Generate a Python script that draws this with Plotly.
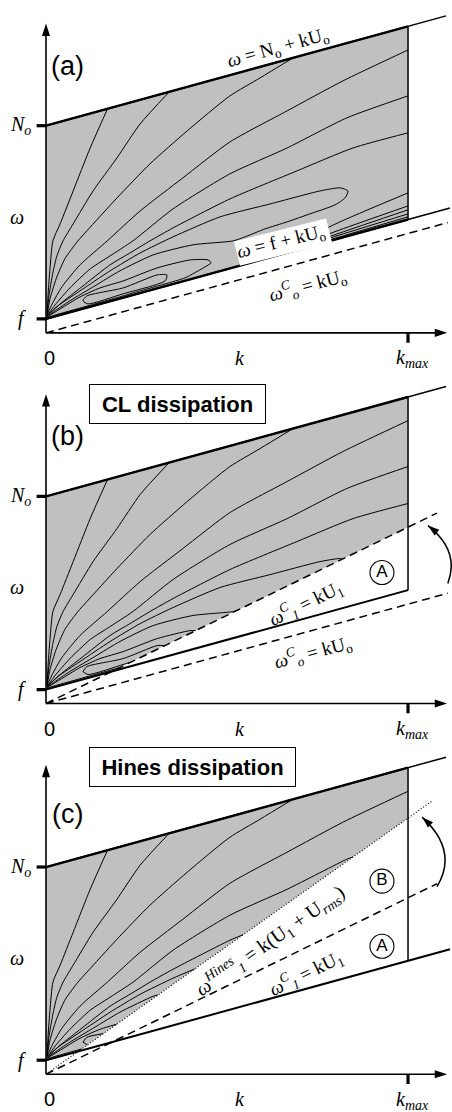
import math
import plotly.graph_objects as go

# ---------------------------------------------------------------------------
# Parameters of the schematic (k normalised by k_max, omega in units of f)
# ---------------------------------------------------------------------------
F_COR = 1.0      # f
N_O = 14.8       # N_o
U_O = 7.1        # U_o
U_1 = 12.6       # U_1
U_RMS = 5.7      # U_rms
K_MAX = 1.0

# ---------------------------------------------------------------------------
# Contours of the launch spectrum in the (k, omega) plane
# ---------------------------------------------------------------------------
C1_K = [0.003, 0.006, 0.011, 0.019, 0.039, 0.075, 0.122, 0.171]
C1_W = [1.36, 2.86, 4.57, 6.57, 7.79, 10.14, 13.21, 16.07]

C2_K = [0.003, 0.008, 0.019, 0.030, 0.047, 0.075, 0.130, 0.196, 0.260, 0.343]
C2_W = [1.29, 2.64, 4.29, 5.50, 6.57, 7.79, 10.14, 12.50, 14.93, 17.29]

C3_K = [0.003, 0.011, 0.028, 0.052, 0.088, 0.113, 0.196, 0.287, 0.390, 0.508, 0.591, 0.696]
C3_W = [1.29, 2.43, 3.86, 5.29, 6.57, 7.29, 9.64, 12.07, 14.43, 16.93, 18.21, 19.86]

C4_K = [0.003, 0.017, 0.044, 0.094, 0.169, 0.260, 0.378, 0.508, 0.666, 0.820, 1.0]
C4_W = [1.29, 2.07, 3.29, 4.86, 6.57, 8.71, 11.07, 13.64, 15.86, 18.00, 20.21]

C5_K = [0.003, 0.025, 0.066, 0.122, 0.177, 0.240, 0.351, 0.508, 0.666, 0.831, 1.0]
C5_W = [1.21, 2.00, 3.21, 4.57, 5.50, 6.57, 8.86, 11.36, 13.21, 15.36, 16.93]

C6_K = [0.006, 0.039, 0.099, 0.177, 0.232, 0.287, 0.351, 0.508, 0.693, 0.848, 1.0]
C6_W = [1.29, 2.07, 3.29, 4.86, 5.71, 6.57, 7.50, 9.57, 11.57, 13.21, 14.29]

C7_K = [0.003, 0.033, 0.094, 0.177, 0.260, 0.351, 0.481, 0.619, 0.757, 0.812, 0.834,
        0.826, 0.798, 0.729, 0.666, 0.605, 0.550, 0.517, 0.406, 0.296, 0.204, 0.135,
        0.066, 0.017, 0.003]
C7_W = [1.21, 1.93, 3.00, 4.43, 5.71, 6.86, 8.29, 9.21, 10.14, 10.36, 10.14,
        9.64, 9.14, 8.50, 7.93, 7.43, 6.86, 6.57, 6.29, 5.57, 4.43, 3.36,
        2.29, 1.43, 1.14]

C8_K = [0.003, 0.039, 0.094, 0.149, 0.213, 0.307, 0.398, 0.448, 0.456,
        0.439, 0.384, 0.329, 0.260, 0.204, 0.135, 0.066, 0.017, 0.003]
C8_W = [1.14, 1.71, 2.57, 3.21, 3.71, 4.64, 5.21, 5.21, 5.00,
        4.71, 3.93, 3.50, 3.00, 2.57, 2.07, 1.57, 1.21, 1.07]

ISLAND_K = [0.102, 0.113, 0.213, 0.307, 0.334, 0.329, 0.213, 0.116, 0.102]
ISLAND_W = [2.29, 2.64, 3.21, 4.14, 4.14, 3.71, 2.79, 2.07, 2.29]

C9_K = [0.674, 0.812, 0.895, 1.0]
C9_W = [6.21, 7.93, 8.86, 10.00]

EDGE_K = [0.702, 0.812, 1.0]
C10_W = [6.29, 7.36, 9.07]
C11_W = [6.14, 7.14, 8.79]
C12_W = [6.07, 7.00, 8.50]
C13_W = [6.00, 6.86, 8.29]

CONTOURS = [
    (C1_K, C1_W), (C2_K, C2_W), (C3_K, C3_W), (C4_K, C4_W), (C5_K, C5_W),
    (C6_K, C6_W), (C7_K, C7_W), (C8_K, C8_W), (ISLAND_K, ISLAND_W),
    (C9_K, C9_W), (EDGE_K, C10_W), (EDGE_K, C11_W), (EDGE_K, C12_W), (EDGE_K, C13_W),
]

# ---------------------------------------------------------------------------
# Drawing helpers
# ---------------------------------------------------------------------------
SERIF = "Liberation Serif"
SANS = "Liberation Sans"
GREY = "#c0c0c0"
K_RANGE = [-0.1271, 1.1215]
W_RANGE = [-2.7, 23.78]
PX_PER_K = 452.0 / (K_RANGE[1] - K_RANGE[0])
PX_PER_W = (1112.0 / 3.0) / (W_RANGE[1] - W_RANGE[0])
W_AXIS_TOP = 22.1
K_AXIS_END = 1.108
MATH = 19
THIN = "\u2009"   # thin space closing a trailing subscript

fig = go.Figure()
annotations = []
shapes = []


def line(ax, ks, ws, width=1.5, dash="solid", color="black", shape="linear"):
    fig.add_trace(go.Scatter(x=ks, y=ws, mode="lines", xaxis=ax[0], yaxis=ax[1],
                             line=dict(color=color, width=width, dash=dash, shape=shape,
                                       smoothing=0.6),
                             hoverinfo="skip", showlegend=False))


def arrow_head(ax, k, w, angle, size=13):
    """Filled arrow head whose tip sits on (k, w); angle clockwise from 'up'."""
    fig.add_trace(go.Scatter(x=[k], y=[w], mode="markers", xaxis=ax[0], yaxis=ax[1],
                             marker=dict(symbol="arrow", size=size, angle=angle,
                                         color="black", line=dict(width=0)),
                             cliponaxis=False, hoverinfo="skip", showlegend=False))


def text(ax, k, w, s, size=MATH, family=SERIF, angle=0, **kw):
    annotations.append(dict(xref=ax[0], yref=ax[1], x=k, y=w, text=s, showarrow=False,
                            font=dict(family=family, size=size, color="black"),
                            textangle=angle, xanchor="center", yanchor="middle", **kw))


def clip_polyline(ks, ws, lower, upper):
    """Keep the parts of a polyline lying between lower(k) and upper(k), 0<=k<=k_max."""
    def g(k, w):
        return min(w - lower(k), upper(k) - w, K_MAX + 1e-9 - k)

    xs, ys = [], []
    prev = None
    for k, w in zip(ks, ws):
        gv = g(k, w)
        if prev is None:
            if gv >= 0:
                xs.append(k); ys.append(w)
        else:
            pk, pw, pg = prev
            if (pg >= 0) != (gv >= 0):
                lo, hi = 0.0, 1.0
                for _ in range(40):
                    mid = 0.5 * (lo + hi)
                    mk, mw = pk + (k - pk) * mid, pw + (w - pw) * mid
                    if (g(mk, mw) >= 0) == (pg >= 0):
                        lo = mid
                    else:
                        hi = mid
                t = 0.5 * (lo + hi)
                ck, cw = pk + (k - pk) * t, pw + (w - pw) * t
                xs.append(ck); ys.append(cw)
                if pg >= 0:
                    xs.append(None); ys.append(None)
                else:
                    xs.append(k); ys.append(w)
            elif gv >= 0:
                xs.append(k); ys.append(w)
        prev = (k, w, gv)
    xs.append(None); ys.append(None)
    return xs, ys


def upper_bound(k):
    return N_O + U_O * k


def axes_and_ticks(ax):
    # axis lines stop a little short of the tip so the head stays sharp
    line(ax, [0.0, 0.0], [0.0, W_AXIS_TOP - 0.5], width=1.6)
    line(ax, [0.0, K_AXIS_END - 0.02], [0.0, 0.0], width=1.6)
    arrow_head(ax, 0.0, W_AXIS_TOP, 0)
    arrow_head(ax, K_AXIS_END, 0.0, 90)
    line(ax, [-0.026, 0.0], [N_O, N_O], width=3.2)
    line(ax, [-0.026, 0.0], [F_COR, F_COR], width=3.2)
    line(ax, [K_MAX, K_MAX], [0.0, -0.7], width=3.2)
    text(ax, -0.066, N_O, "<i>N<sub>o</sub></i>" + THIN, size=20)
    text(ax, -0.066, F_COR, "<i>f</i>", size=20)
    text(ax, -0.080, 8.3, "<i>ω</i>", size=20)
    text(ax, 0.011, -1.8, "0", family=SANS, size=20)
    text(ax, 0.536, -1.8, "<i>k</i>", size=20)
    text(ax, 1.016, -1.85, "<i>k<sub>max</sub></i>" + THIN, size=20)


def spectrum(ax, cutoff_speed):
    """Grey launch spectrum above max(f + kU_o, k*cutoff_speed) with its contours."""
    if cutoff_speed is None:
        gk = [0.0, K_MAX, K_MAX, 0.0]
        gw = [N_O, N_O + U_O * K_MAX, F_COR + U_O * K_MAX, F_COR]
        lower = lambda k: F_COR + U_O * k
    else:
        k_star = F_COR / (cutoff_speed - U_O)
        gk = [0.0, K_MAX, K_MAX, k_star, 0.0]
        gw = [N_O, N_O + U_O * K_MAX, cutoff_speed * K_MAX, cutoff_speed * k_star, F_COR]
        lower = lambda k: max(F_COR + U_O * k, cutoff_speed * k)
    fig.add_trace(go.Scatter(x=gk, y=gw, mode="lines", fill="toself", fillcolor=GREY,
                             line=dict(width=0), xaxis=ax[0], yaxis=ax[1],
                             hoverinfo="skip", showlegend=False))
    xs, ys = [], []
    for ks, ws in CONTOURS:
        cx, cy = clip_polyline(ks, ws, lower, upper_bound)
        xs += cx
        ys += cy
    line(ax, xs, ys, width=1.0, shape="spline")
    # upper limit omega = N_o + kU_o and the k_max edge
    line(ax, [0.0, 1.105], [N_O, N_O + U_O * 1.105], width=1.5)
    line(ax, [0.0, K_MAX], [N_O, N_O + U_O * K_MAX], width=2.4)
    line(ax, [K_MAX, K_MAX], [F_COR + U_O * K_MAX, N_O + U_O * K_MAX], width=1.5)


def curved_arrow(ax, k0, w0, kc, wc, k1, w1):
    shapes.append(dict(type="path", xref=ax[0], yref=ax[1],
                       path=f"M {k0},{w0} Q {kc},{wc} {k1},{w1}",
                       line=dict(color="black", width=1.5)))
    # arrow head aligned with the end tangent of the curve
    dx = (k1 - kc) * PX_PER_K
    dy_up = (w1 - wc) * PX_PER_W
    arrow_head(ax, k1, w1, math.degrees(math.atan2(dx, dy_up)), size=12)


def circled(ax, k, w, letter):
    fig.add_trace(go.Scatter(x=[k], y=[w], mode="markers+text", text=[letter],
                             textposition="middle center",
                             textfont=dict(family=SANS, size=17, color="black"),
                             marker=dict(symbol="circle", size=24, color="white",
                                         line=dict(color="black", width=1.1)),
                             xaxis=ax[0], yaxis=ax[1], hoverinfo="skip",
                             showlegend=False))


def boxed(ax, k, w, s, width):
    annotations.append(dict(xref=ax[0], yref=ax[1], x=k, y=w, text=f"<b>{s}</b>",
                            showarrow=False, xanchor="center", yanchor="middle",
                            font=dict(family=SANS, size=22, color="black"),
                            bgcolor="white", bordercolor="black", borderwidth=1,
                            borderpad=5, width=width, height=28))


U_HINES = U_1 + U_RMS

# ---------------------------------------------------------------- panel (a)
A = ("x", "y")
spectrum(A, None)
line(A, [0.0, 1.116], [F_COR, F_COR + U_O * 1.116], width=1.6)
line(A, [0.0, K_MAX], [F_COR, F_COR + U_O * K_MAX], width=2.4)
line(A, [0.0, 1.11], [0.0, U_O * 1.11], width=1.5, dash="8px,5px")
axes_and_ticks(A)
text(A, 0.058, 19.07, "(a)", family=SANS, size=27)
text(A, 0.646, 20.35, "<i>ω</i> = N<sub>o</sub> + kU<sub>o</sub>" + THIN, angle=-15.5)
text(A, 0.655, 6.5, "<i>ω</i> = f + kU<sub>o</sub>" + THIN, angle=-14,
     bgcolor="white", borderpad=0)
text(A, 0.729, 3.45, "<i>ω<sup>C</sup><sub>o</sub></i> = kU<sub>o</sub>" + THIN, angle=-15)

# ---------------------------------------------------------------- panel (b)
B = ("x2", "y2")
spectrum(B, U_1)
line(B, [0.0, K_MAX], [F_COR, F_COR + U_O * K_MAX], width=2.0)
line(B, [0.0, 1.08], [0.0, U_1 * 1.08], width=1.5, dash="8px,5px")
line(B, [0.0, 1.11], [0.0, U_O * 1.11], width=1.5, dash="8px,5px")
axes_and_ticks(B)
text(B, 0.058, 19.14, "(b)", family=SANS, size=27)
boxed(B, 0.362, 21.43, "CL dissipation", 165)
text(B, 0.721, 7.21, "<i>ω<sup>C</sup><sub>1</sub></i> = kU<sub>1</sub>" + THIN, angle=-26)
text(B, 0.743, 3.75, "<i>ω<sup>C</sup><sub>o</sub></i> = kU<sub>o</sub>" + THIN, angle=-15)
circled(B, 0.928, 9.36, "A")
curved_arrow(B, 1.110, U_O * 1.110 + 0.7, 1.144, 10.93, 1.055, U_1 * 1.055 - 0.58)

# ---------------------------------------------------------------- panel (c)
C = ("x3", "y3")
spectrum(C, U_HINES)
line(C, [0.0, 1.116], [F_COR, F_COR + U_O * 1.116], width=2.0)
line(C, [0.0, 1.08], [0.0, U_1 * 1.08], width=1.5, dash="8px,5px")
line(C, [0.0, 1.066], [0.0, U_HINES * 1.066], width=1.2, dash="1px,2px")
axes_and_ticks(C)
text(C, 0.058, 18.57, "(c)", family=SANS, size=27)
boxed(C, 0.405, 21.93, "Hines dissipation", 195)
text(C, 0.619, 9.5,
     "<i>ω<sup>Hines</sup><sub>1</sub></i> = k(U<sub>1</sub> + U<sub><i>rms</i></sub>)",
     angle=-35, size=20)
text(C, 0.721, 7.29, "<i>ω<sup>C</sup><sub>1</sub></i> = kU<sub>1</sub>" + THIN, angle=-26)
circled(C, 0.928, 13.79, "B")
circled(C, 0.928, 9.14, "A")
curved_arrow(C, 1.080, U_1 * 1.080 - 0.2, 1.14, 15.96, 1.039, U_HINES * 1.039 - 0.65)

# ---------------------------------------------------------------- layout
axis_common = dict(visible=False, showgrid=False, zeroline=False, fixedrange=True)
layout_axes = {}
for i, dom in zip(["", "2", "3"], [[2 / 3, 1.0], [1 / 3, 2 / 3], [0.0, 1 / 3]]):
    layout_axes[f"xaxis{i}"] = dict(axis_common, range=K_RANGE, domain=[0.0, 1.0],
                                    anchor=f"y{i}")
    layout_axes[f"yaxis{i}"] = dict(axis_common, range=W_RANGE, domain=dom,
                                    anchor=f"x{i}")

fig.update_layout(width=452, height=1112, margin=dict(l=0, r=0, t=0, b=0),
                  paper_bgcolor="white", plot_bgcolor="white",
                  annotations=annotations, shapes=shapes, **layout_axes)

fig.write_html("out.html")
